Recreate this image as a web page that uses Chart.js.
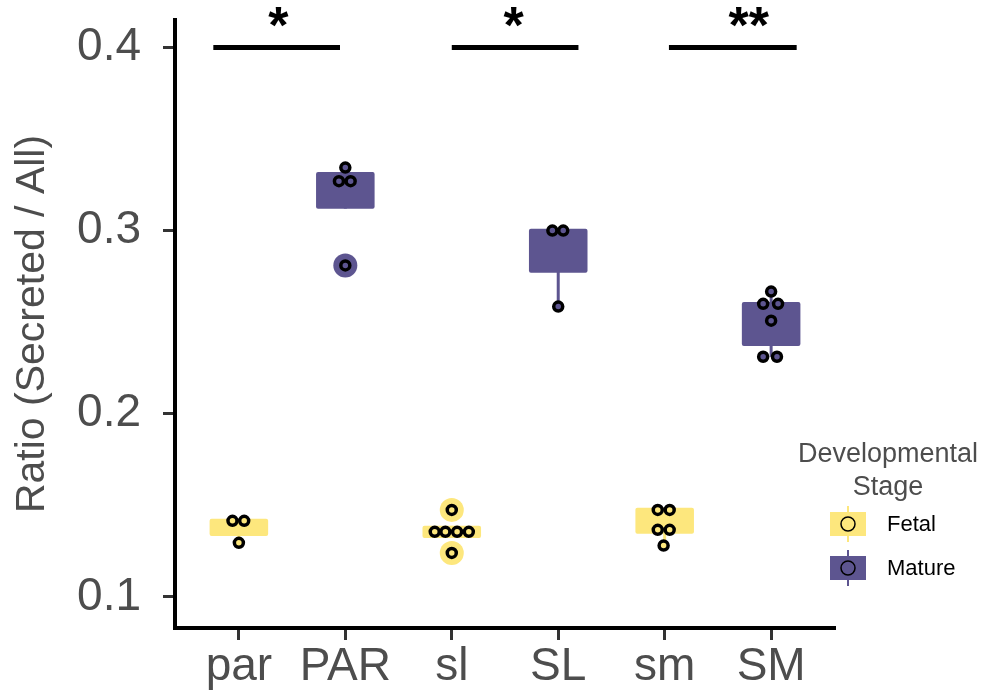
<!DOCTYPE html>
<html>
<head>
<meta charset="utf-8">
<script src="https://cdn.jsdelivr.net/npm/chart.js@4.4.1/dist/chart.umd.min.js"></script>
<style>
  html, body { margin: 0; padding: 0; background: #fff; }
  #wrap { width: 992px; height: 700px; }
</style>
</head>
<body>
<div id="wrap"><canvas id="chart" width="992" height="700"></canvas></div>
<script>
// groups on the x axis
const categories = ['par', 'PAR', 'sl', 'SL', 'sm', 'SM'];
const stages = ['Fetal', 'Mature', 'Fetal', 'Mature', 'Fetal', 'Mature'];

// box statistics
const boxLow = [0.1333, 0.3120, 0.1322, 0.2770, 0.1344, 0.2370];
const boxHigh = [0.1426, 0.3320, 0.1388, 0.3010, 0.1486, 0.2610];
const whiskerLow = [0.1295, 0.3120, 0.1322, 0.2585, 0.1280, 0.2311];
const whiskerHigh = [0.1426, 0.3344, 0.1388, 0.3010, 0.1486, 0.2667];

// individual samples (values) and their jitter offsets
const samples = [
  [0.1415, 0.1415, 0.1295],
  [0.3344, 0.3270, 0.3270, 0.2810],
  [0.1475, 0.1355, 0.1355, 0.1355, 0.1355, 0.1240],
  [0.3000, 0.3000, 0.2585],
  [0.1475, 0.1475, 0.1366, 0.1366, 0.1280],
  [0.2667, 0.2600, 0.2600, 0.2508, 0.2311, 0.2311]
];
const jitter = [
  [-0.06, 0.05, 0],
  [0, -0.06, 0.05, 0],
  [0, -0.16, -0.06, 0.05, 0.16, 0],
  [-0.055, 0.047, 0],
  [-0.065, 0.047, -0.065, 0.047, -0.01],
  [0, -0.075, 0.065, 0, -0.075, 0.055]
];

// outliers flagged by the boxplot
const outlierGroup = [1, 2, 2];
const outlierValue = [0.2810, 0.1475, 0.1240];

// significance brackets
const sigFrom = [-0.24, 2.0, 4.04];
const sigTo = [0.95, 3.19, 5.24];
const sigValue = [0.4, 0.4, 0.4];
const sigLabel = ['*', '*', '**'];
const sigLabelAt = [0.37, 2.58, 4.79];

const yTicks = [0.1, 0.2, 0.3, 0.4];

const stageColor = { Fetal: '#fde77d', Mature: '#5d5590' };
const FONT = "'Liberation Sans', Arial, Helvetica, sans-serif";
const BOX_WIDTH = 0.55;

function pointsFor(stage) {
  const pts = [];
  samples.forEach((vals, i) => {
    if (stages[i] !== stage) return;
    vals.forEach((v, k) => pts.push({ x: i + jitter[i][k], y: v }));
  });
  return pts;
}

function outliersFor(stage) {
  const pts = [];
  outlierGroup.forEach((g, k) => {
    if (stages[g] === stage) pts.push({ x: g, y: outlierValue[k] });
  });
  return pts;
}

const boxPlugin = {
  id: 'boxes',
  beforeDatasetsDraw(chart) {
    const { ctx, scales: { x, y } } = chart;
    ctx.save();
    categories.forEach((c, i) => {
      const col = stageColor[stages[i]];
      const cx = x.getPixelForValue(i);
      const left = x.getPixelForValue(i - BOX_WIDTH / 2);
      const right = x.getPixelForValue(i + BOX_WIDTH / 2);
      // whisker
      ctx.strokeStyle = col;
      ctx.lineWidth = 3;
      ctx.beginPath();
      ctx.moveTo(cx, y.getPixelForValue(whiskerLow[i]));
      ctx.lineTo(cx, y.getPixelForValue(whiskerHigh[i]));
      ctx.stroke();
      // box
      const top = y.getPixelForValue(boxHigh[i]);
      const bot = y.getPixelForValue(boxLow[i]);
      ctx.fillStyle = col;
      ctx.beginPath();
      ctx.roundRect(left, top, right - left, bot - top, 2);
      ctx.fill();
    });
    ctx.restore();
  },
  afterDraw(chart) {
    const { ctx, scales: { x, y } } = chart;
    ctx.save();
    // significance bars
    sigFrom.forEach((s, i) => {
      const py = y.getPixelForValue(sigValue[i]);
      ctx.strokeStyle = '#000';
      ctx.lineWidth = 5;
      ctx.beginPath();
      ctx.moveTo(x.getPixelForValue(s), py);
      ctx.lineTo(x.getPixelForValue(sigTo[i]), py);
      ctx.stroke();
      ctx.fillStyle = '#000';
      ctx.font = 'bold 52px ' + FONT;
      ctx.textAlign = 'center';
      ctx.textBaseline = 'alphabetic';
      ctx.fillText(sigLabel[i], x.getPixelForValue(sigLabelAt[i]), py - 4);
    });

    // legend
    const cx = 876;
    ctx.fillStyle = '#4d4d4d';
    ctx.font = '27px ' + FONT;
    ctx.textAlign = 'center';
    ctx.textBaseline = 'middle';
    ctx.fillText('Developmental', cx + 12, 455);
    ctx.fillText('Stage', cx + 12, 488);
    ['Fetal', 'Mature'].forEach((st, k) => {
      const ky = 524 + k * 44;
      const kx = 848;
      const col = stageColor[st];
      ctx.strokeStyle = col;
      ctx.lineWidth = 2;
      ctx.beginPath();
      ctx.moveTo(kx, ky - 18);
      ctx.lineTo(kx, ky + 18);
      ctx.stroke();
      ctx.fillStyle = col;
      ctx.fillRect(kx - 18, ky - 12, 36, 24);
      ctx.strokeStyle = '#000';
      ctx.lineWidth = 1.5;
      ctx.beginPath();
      ctx.arc(kx, ky, 7, 0, Math.PI * 2);
      ctx.stroke();
      ctx.fillStyle = '#000';
      ctx.font = '22px ' + FONT;
      ctx.textAlign = 'left';
      ctx.fillText(st, 887, ky + 1);
    });
    ctx.restore();
  }
};

const pointStyle = (stage) => ({
  type: 'scatter',
  label: stage,
  data: pointsFor(stage),
  backgroundColor: stageColor[stage],
  borderColor: '#000',
  borderWidth: 3.5,
  pointRadius: 4.5,
  pointHoverRadius: 4.5,
  order: 0
});

const outlierStyle = (stage) => ({
  type: 'scatter',
  label: stage + ' outliers',
  data: outliersFor(stage),
  backgroundColor: stageColor[stage],
  borderWidth: 0,
  pointRadius: 12,
  pointHoverRadius: 12,
  order: 1
});

new Chart(document.getElementById('chart'), {
  type: 'scatter',
  data: {
    datasets: [
      pointStyle('Fetal'),
      pointStyle('Mature'),
      outlierStyle('Fetal'),
      outlierStyle('Mature')
    ]
  },
  options: {
    responsive: false,
    animation: false,
    layout: { padding: { top: 20, right: 157, left: 0, bottom: 0 } },
    plugins: {
      legend: { display: false },
      tooltip: { enabled: false }
    },
    scales: {
      x: {
        type: 'linear',
        min: -0.6,
        max: 5.6,
        afterBuildTicks: (s) => { s.ticks = categories.map((c, i) => ({ value: i })); },
        afterFit: (s) => { s.height = 72; s.paddingLeft = 0; s.paddingRight = 0; },
        ticks: {
          callback: (v) => categories[v],
          color: '#4d4d4d',
          font: { family: FONT, size: 46 },
          padding: 0,
          maxRotation: 0,
          autoSkip: false
        },
        grid: { drawOnChartArea: false, tickLength: 12, tickWidth: 3, tickColor: '#333' },
        border: { color: '#000', width: 4 }
      },
      y: {
        min: 0.083,
        max: 0.415,
        afterBuildTicks: (s) => { s.ticks = yTicks.map(v => ({ value: v })); },
        afterFit: (s) => { s.width = 175; s.paddingTop = 0; s.paddingBottom = 0; },
        ticks: {
          callback: (v) => v.toFixed(1),
          color: '#4d4d4d',
          font: { family: FONT, size: 46 },
          padding: 22
        },
        grid: { drawOnChartArea: false, tickLength: 12, tickWidth: 3, tickColor: '#333' },
        border: { color: '#000', width: 4 },
        title: {
          display: true,
          text: 'Ratio (Secreted / All)',
          color: '#4d4d4d',
          font: { family: FONT, size: 41 },
          padding: { top: 8, bottom: 0 }
        }
      }
    }
  },
  plugins: [boxPlugin]
});
</script>
</body>
</html>
